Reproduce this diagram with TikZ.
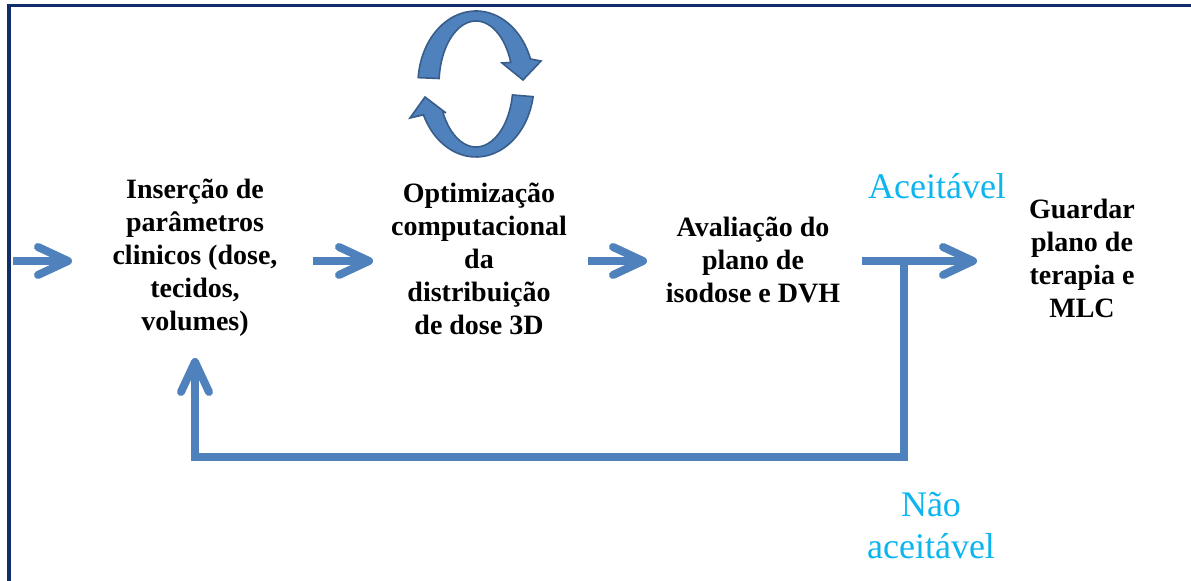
\documentclass[tikz,border=0pt]{standalone}
\usepackage{fontspec}
\setmainfont{Liberation Serif}
\usepackage{tikz}
\usetikzlibrary{arrows.meta,calc}

\definecolor{flowblue}{RGB}{79,129,189}
\definecolor{edgeblue}{RGB}{56,93,138}
\definecolor{okcyan}{RGB}{12,180,240}
\definecolor{framenavy}{RGB}{16,45,105}

\begin{document}
\begin{tikzpicture}[x=0.5pt, y=-0.5pt,
                   stage/.style={align=center, font=\bfseries\fontsize{14}{16.5}\selectfont},
                   verdict/.style={align=center, text=okcyan, font=\fontsize{18}{21}\selectfont},
                   flow/.style={flowblue, line width=4pt, line join=miter,
                                -{Straight Barb[length=15pt,width=14pt,round]}},
                   cycleicon/.style={fill=flowblue, draw=edgeblue, line width=0.8pt}]
  \useasboundingbox (0,0) rectangle (1191,581);
  % frame
  \draw[framenavy, line width=1.6pt] (9,581) -- (9,5.5) -- (1191,5.5);

  % stages
  \node[stage] (insert) at (195,258) {Inserção de\\parâmetros\\clinicos (dose,\\tecidos,\\volumes)};
  \node[stage] (optim) at (479,259) {Optimização\\computacional\\da\\distribuição\\de dose 3D};
  \node[stage] (eval) at (753,260) {Avaliação do\\plano de\\isodose e DVH};
  \node[stage] (save) at (1082,258) {Guardar\\plano de\\terapia e\\MLC};
  \node[verdict] (ok) at (937,186) {Aceitável};
  \node[verdict] (notok) at (931,526) {Não\\aceitável};

  % arrow ends
  \coordinate (in0) at (13,261);  \coordinate (in1) at (72,261);
  \coordinate (op0) at (313,261); \coordinate (op1) at (373,261);
  \coordinate (ev0) at (588,261); \coordinate (ev1) at (647,261);
  \coordinate (sv0) at (862,261); \coordinate (sv1) at (977,261);
  \coordinate (tee) at (904,261); \coordinate (low) at (904,457);
  \coordinate (back) at (195,358);

  \draw[flow] (in0) -- (in1);
  \draw[flow] (op0) -- (op1);
  \draw[flow] (ev0) -- (ev1);
  \draw[flow] (sv0) -- (sv1);
  \draw[flow] (tee) -- (low) -| (back);

  % iteration icon
  \coordinate (c) at (476,84);
  \filldraw[cycleicon] ($(c)+(185:58 and 73)$) arc[start angle=185, end angle=340, x radius=58, y radius=73]
    -- (541,61) -- (523,80) -- (502,63)
    -- ($(c)+(340:37 and 63)$) arc[start angle=340, end angle=185, x radius=37, y radius=63] -- cycle;
  \filldraw[cycleicon] ($(c)+(10:58 and 73)$) arc[start angle=10, end angle=155, x radius=58, y radius=73]
    -- (410,118) -- (425,97) -- (446,113)
    -- ($(c)+(155:37 and 63)$) arc[start angle=155, end angle=10, x radius=37, y radius=63] -- cycle;
\end{tikzpicture}
\end{document}
